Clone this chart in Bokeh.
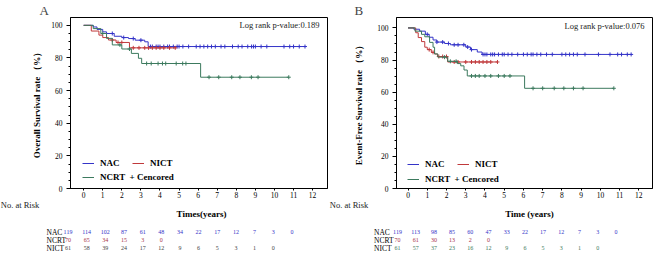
import numpy as np
from bokeh.plotting import figure
from bokeh.models import Label, Legend, LegendItem, FixedTicker, Range1d, ColumnDataSource
from bokeh.core.properties import value
from bokeh.layouts import row, column
from bokeh.embed import file_html
from bokeh.resources import INLINE

# ---------------- data ----------------
x_ticks = list(range(13))
y_ticks = [0, 20, 40, 60, 80, 100]

# Panel A: overall survival (step change points, %)
a_nac_t = [0, 0.5, 0.7, 1.0, 1.2, 1.6, 2.0, 2.35, 2.7, 3.2, 3.38, 11.63]
a_nac_s = [100, 99, 97.5, 96, 95, 93.3, 92.5, 91.9, 90.9, 89.9, 87.0, 87.0]
a_nict_t = [0, 0.4, 0.8, 1.0, 1.3, 1.7, 2.4, 4.85]
a_nict_s = [100, 96.5, 94, 92.5, 91, 89.5, 86.2, 86.2]
a_ncrt_t = [0, 0.5, 0.9, 1.2, 1.5, 2.0, 2.5, 2.87, 3.04, 6.13, 10.75]
a_ncrt_s = [100, 98, 95, 92, 88, 85.5, 82.8, 79.8, 76.6, 68.2, 68.2]
a_nac_cens = [1.5, 2.1, 2.6, 3.0, 3.5, 3.6, 3.8, 3.9, 4.0, 4.2, 4.4, 4.5, 4.7, 4.9,
              5.0, 5.2, 5.5, 5.9, 6.1, 6.3, 6.5, 6.7, 6.9, 7.2, 7.4, 7.8, 8.1, 8.3,
              8.6, 8.8, 8.9, 9.0, 9.3, 9.6, 10.5, 10.8, 11.0, 11.3, 11.6]
a_nict_cens = [1.5, 1.8, 2.0, 2.6, 2.9, 3.2, 3.4, 3.6, 3.8, 4.0, 4.2, 4.5, 4.8]
a_ncrt_cens = [1.0, 1.9, 2.4, 3.3, 3.54, 3.9, 4.13, 4.3, 4.85, 5.19, 5.36,
               6.57, 7.08, 7.76, 8.19, 8.79, 9.14, 10.75]

# Panel B: event-free survival
b_nac_t = [0, 0.3, 0.6, 0.9, 1.1, 1.3, 1.5, 1.9, 2.2, 3.0, 3.25, 3.6, 3.85, 11.6]
b_nac_s = [100, 99.2, 98, 96, 94.2, 92.5, 91.2, 90.3, 89.5, 88.1, 86.5, 85, 83.5, 83.5]
b_nict_t = [0, 0.4, 0.53, 0.7, 0.87, 1.0, 1.21, 1.38, 1.53, 2.06, 4.65]
b_nict_s = [100, 97, 94, 91.5, 88, 86.5, 84.8, 83.8, 82.2, 78.8, 78.8]
b_ncrt_t = [0, 0.36, 0.7, 0.87, 1.12, 1.3, 1.38, 1.55, 2.06, 2.57, 2.74, 2.91, 3.08, 6.06, 10.7]
b_ncrt_s = [100, 98, 96, 94.5, 91, 88, 83.8, 81.8, 79.2, 77.8, 76.4, 73.8, 70.1, 62.4, 62.4]
b_nac_cens = [1.0, 1.5, 1.8, 2.1, 2.4, 2.6, 2.9, 3.1, 3.3, 3.9, 4.0, 4.1, 4.3, 4.4,
              4.5, 4.7, 4.9, 5.0, 5.2, 5.4, 5.7, 6.0, 6.2, 6.4, 6.5, 6.7, 6.9, 7.2,
              7.5, 8.0, 8.2, 8.4, 8.6, 8.8, 9.2, 9.9, 10.5, 10.9, 11.1, 11.4, 11.6]
b_nict_cens = [1.1, 1.3, 1.6, 1.8, 2.0, 2.4, 2.6, 3.0, 3.3, 3.5, 3.7, 3.9, 4.1, 4.3, 4.65]
b_ncrt_cens = [1.9, 2.2, 2.5, 3.3, 3.5, 3.7, 4.0, 4.3, 4.7, 5.0, 5.3,
               6.5, 7.0, 7.6, 8.1, 8.6, 9.1, 10.7]

# Numbers at risk
risk_groups = ["NAC", "NCRT", "NICT"]
a_risk_nac = [119, 114, 102, 87, 61, 48, 34, 22, 17, 12, 7, 3, 0]
a_risk_ncrt = [70, 65, 34, 15, 3, 0]
a_risk_nict = [61, 58, 39, 24, 17, 12, 9, 6, 5, 3, 1, 0]
b_risk_nac = [119, 113, 98, 85, 60, 47, 33, 22, 17, 12, 7, 3, 0]
b_risk_ncrt = [70, 61, 30, 13, 2, 0]
b_risk_nict = [61, 57, 37, 23, 16, 12, 9, 6, 5, 3, 1, 0]

# ---------------- style ----------------
C_NAC = "#3434c8"
C_NICT = "#c0393b"
C_NCRT = "#3c7a5e"
SERIF = "Liberation Serif"
MAIN_H = 200
RISK_H = 53
FRAME_TOP = 12
FRAME_BOTTOM = 12


def step_at(t, s, c):
    t = np.asarray(t)
    s = np.asarray(s)
    idx = np.searchsorted(t, np.asarray(c), side="right") - 1
    return s[np.clip(idx, 0, len(s) - 1)]


def main_panel(width, left, xr, yr, letter, letter_off, ylabel, ylab_standoff,
               pval, pval_y, curves, leg_x, leg_y1, leg_y2):
    p = figure(width=width, height=MAIN_H, x_range=xr, y_range=yr,
               output_backend="svg", toolbar_location=None,
               min_border_left=left, min_border_right=1,
               min_border_top=FRAME_TOP, min_border_bottom=FRAME_BOTTOM)
    p.grid.visible = False
    p.outline_line_color = "black"
    p.outline_line_width = 1
    p.background_fill_color = "white"
    p.border_fill_color = "white"
    p.title.text = letter
    p.title.text_font = SERIF
    p.title.text_font_style = "normal"
    p.title.text_font_size = "13px"
    p.title.align = "left"
    p.title.offset = letter_off
    p.title.standoff = 0

    p.xaxis.ticker = FixedTicker(ticks=x_ticks)
    p.yaxis.ticker = FixedTicker(ticks=y_ticks,
                                 minor_ticks=list(range(0, 101, 5)))
    for ax in (p.xaxis, p.yaxis):
        ax.axis_line_color = "black"
        ax.major_tick_line_color = "black"
        ax.minor_tick_line_color = "black"
        ax.major_tick_in = 0
        ax.minor_tick_in = 0
        ax.major_label_text_font = SERIF
        ax.major_label_text_font_size = "7.5px"
        ax.major_label_text_color = "black"
        ax.axis_label_text_font = SERIF
        ax.axis_label_text_font_style = "bold"
        ax.axis_label_text_font_size = "9px"
        ax.axis_label_text_color = "black"
    p.xaxis.major_tick_out = 2
    p.xaxis.minor_tick_out = 0
    p.xaxis.major_label_standoff = 1
    p.yaxis.major_tick_out = 4
    p.yaxis.minor_tick_out = 2
    p.yaxis.major_label_standoff = 4
    p.yaxis.axis_label = ylabel
    p.yaxis.axis_label_standoff = ylab_standoff

    items = {}
    for name, t, s, cens, col in curves:
        r = p.step(t, s, mode="after", line_color=col, line_width=1)
        p.scatter(cens, step_at(t, s, cens), marker="cross", size=4,
                  line_color=col, line_width=1)
        items[name] = r

    common = dict(orientation="horizontal", padding=0, margin=0, spacing=12,
                  border_line_alpha=0, background_fill_alpha=0,
                  glyph_width=12, glyph_height=10, label_height=10,
                  label_standoff=6, label_text_font=SERIF,
                  label_text_font_style="bold", label_text_font_size="9px",
                  label_text_color="black")
    leg1 = Legend(items=[LegendItem(label="NAC", renderers=[items["NAC"]]),
                         LegendItem(label="NICT", renderers=[items["NICT"]])],
                  location=(leg_x, leg_y1), **common)
    leg2 = Legend(items=[LegendItem(label="NCRT  + Cencored",
                                    renderers=[items["NCRT"]])],
                  location=(leg_x, leg_y2), **common)
    p.add_layout(leg1)
    p.add_layout(leg2)

    fw = width - left - 1
    p.add_layout(Label(x=fw - 8, y=pval_y, x_units="screen", y_units="data",
                       text=pval, text_font=SERIF, text_font_size="8.5px",
                       text_align="right", text_baseline="middle",
                       text_color="#222222"))
    return p


def risk_panel(width, xlabel, xlabel_x, risks, num_x0, num_dx, lab_x, nar_x, nict_color):
    p = figure(width=width, height=RISK_H, x_range=Range1d(0, width),
               y_range=Range1d(RISK_H, 0), output_backend="svg",
               toolbar_location=None, min_border=0)
    p.axis.visible = False
    p.grid.visible = False
    p.outline_line_color = None
    p.background_fill_color = "white"
    p.border_fill_color = "white"

    p.text(x=[nar_x], y=[4.5], text=["No. at Risk"], text_font=value(SERIF),
           text_font_size="8.5px", text_align="left", text_baseline="middle",
           text_color="#222222")
    p.text(x=[xlabel_x], y=[13.5], text=[xlabel], text_font=value(SERIF),
           text_font_size="9px", text_font_style="bold", text_align="center",
           text_baseline="middle", text_color="black")
    row_y = [31.5, 39.8, 47.8]
    row_col = [C_NAC, "#a8324a", nict_color]
    for gi, (g, vals) in enumerate(zip(risk_groups, risks)):
        p.text(x=[lab_x], y=[row_y[gi]], text=[g], text_font=value(SERIF),
               text_font_size="7.5px", text_align="left", text_baseline="middle",
               text_color="black")
        src = ColumnDataSource(dict(
            x=[num_x0 + i * num_dx for i in range(len(vals))],
            y=[row_y[gi]] * len(vals),
            t=[str(v) for v in vals]))
        p.text(x="x", y="y", text="t", source=src, text_font=value(SERIF),
               text_font_size="6px", text_align="center", text_baseline="middle",
               text_color=row_col[gi])
    return p


pA = main_panel(328, 70, (-0.69, 12.78), (0, 104.8), "A", -31,
                "Overall Survival rate （%）", 6, "Log rank p-value:0.189", 100.5,
                [("NAC", a_nac_t, a_nac_s, a_nac_cens, C_NAC),
                 ("NICT", a_nict_t, a_nict_s, a_nict_cens, C_NICT),
                 ("NCRT", a_ncrt_t, a_ncrt_s, a_ncrt_cens, C_NCRT)],
                leg_x=12, leg_y1=20, leg_y2=6)
pB = main_panel(325, 68, (-0.6, 12.71), (0, 106.5), "B", -42,
                "Event-Free Survival rate （%）", 10, "Log rank p-value:0.076", 101.5,
                [("NAC", b_nac_t, b_nac_s, b_nac_cens, C_NAC),
                 ("NICT", b_nict_t, b_nict_s, b_nict_cens, C_NICT),
                 ("NCRT", b_ncrt_t, b_ncrt_s, b_ncrt_cens, C_NCRT)],
                leg_x=11, leg_y1=19, leg_y2=4)

rA = risk_panel(328, "Times(years)", 201, [a_risk_nac, a_risk_ncrt, a_risk_nict],
                num_x0=67.5, num_dx=18.66, lab_x=46, nar_x=0.3, nict_color="#444444")
rB = risk_panel(325, "Time (years)", 201, [b_risk_nac, b_risk_ncrt, b_risk_nict],
                num_x0=69, num_dx=18.2, lab_x=45.5, nar_x=1.3, nict_color=C_NCRT)

layout = column(row(pA, pB), row(rA, rB))
open("out.html", "w").write(file_html(layout, INLINE))
